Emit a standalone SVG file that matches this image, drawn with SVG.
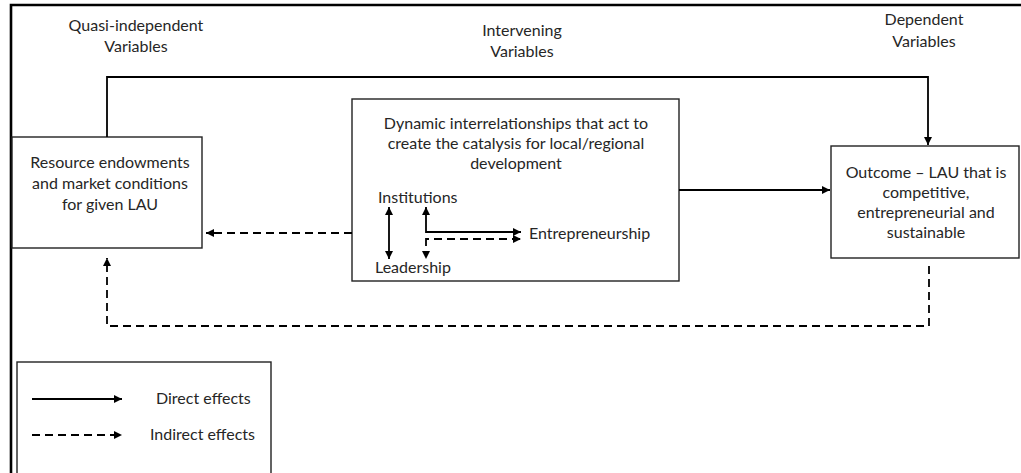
<svg xmlns="http://www.w3.org/2000/svg" width="1021" height="473" viewBox="0 0 1021 473">
  <style>
    .t { font-family: Lato, "Open Sans", "Liberation Sans", sans-serif; font-size: 16px; fill: #262626; text-anchor: middle; }
    .ts { text-anchor: start; }
    .box { fill: #fff; stroke: #222; stroke-width: 1.4; }
    .c { fill: none; stroke: #000; stroke-width: 1.8; }
    .d { stroke-dasharray: 8 5; }
  </style>
  <defs>
    <marker id="ah" viewBox="0 0 8 8" refX="8" refY="4" markerWidth="8" markerHeight="8" markerUnits="userSpaceOnUse" orient="auto-start-reverse">
      <path d="M0,0 L8,4 L0,8 z" fill="#000"/>
    </marker>
  </defs>
  <rect width="1021" height="473" fill="#fff"/>

  <g id="frame">
    <path d="M11,473 L11,5 L1021,5" fill="none" stroke="#000" stroke-width="2.6"/>
  </g>

  <g id="headers">
    <text class="t" x="136" y="31">Quasi-independent</text>
    <text class="t" x="136" y="52">Variables</text>
    <text class="t" x="522" y="36">Intervening</text>
    <text class="t" x="522" y="57">Variables</text>
    <text class="t" x="924" y="25">Dependent</text>
    <text class="t" x="924" y="47">Variables</text>
  </g>

  <g id="resource">
    <rect class="box" x="12" y="137" width="190" height="111"/>
    <text class="t" x="110" y="168">Resource endowments</text>
    <text class="t" x="110" y="189">and market conditions</text>
    <text class="t" x="110" y="210">for given LAU</text>
  </g>

  <g id="dynamic">
    <rect class="box" x="352" y="99" width="327" height="182"/>
    <text class="t" x="516" y="129">Dynamic interrelationships that act to</text>
    <text class="t" x="516" y="149">create the catalysis for local/regional</text>
    <text class="t" x="516" y="169">development</text>
  </g>

  <g id="institutions">
    <text class="t ts" x="378" y="203">Institutions</text>
  </g>
  <g id="leadership">
    <text class="t ts" x="375" y="273">Leadership</text>
  </g>
  <g id="entrepreneurship">
    <text class="t ts" x="529" y="239">Entrepreneurship</text>
  </g>

  <g id="outcome">
    <rect class="box" x="831" y="146" width="188" height="112"/>
    <text class="t" x="926" y="178">Outcome – LAU that is</text>
    <text class="t" x="926" y="198">competitive,</text>
    <text class="t" x="926" y="218">entrepreneurial and</text>
    <text class="t" x="926" y="238">sustainable</text>
  </g>

  <g id="legend">
    <rect class="box" x="17" y="362" width="254" height="120"/>
    <path class="c" d="M32,399 L122,399" marker-end="url(#ah)"/>
    <path class="c d" d="M32,435 L122,435" marker-end="url(#ah)"/>
    <text class="t ts" x="156" y="404">Direct effects</text>
    <text class="t ts" x="150" y="440">Indirect effects</text>
  </g>

  <g id="connectors">
    <path class="c" d="M107,137 L107,77 L928,77 L928,145" marker-end="url(#ah)"/>
    <path class="c" d="M679,190 L830,190" marker-end="url(#ah)"/>
    <path class="c d" d="M352,233 L206,233" marker-end="url(#ah)"/>
    <path class="c d" d="M929,266 L929,326 L107,326 L107,258" marker-end="url(#ah)"/>
    <path class="c" d="M389,207 L389,259" marker-start="url(#ah)" marker-end="url(#ah)"/>
    <path class="c" d="M426,207 L426,232 L521,232" marker-start="url(#ah)" marker-end="url(#ah)"/>
    <path class="c" d="M426,259 L426,239 L521,239" stroke-dasharray="0 13 10 5 8 5 8 5 8 5 8 5 8 5 8 5 8 5 8 30" marker-start="url(#ah)" marker-end="url(#ah)"/>
  </g>
</svg>
